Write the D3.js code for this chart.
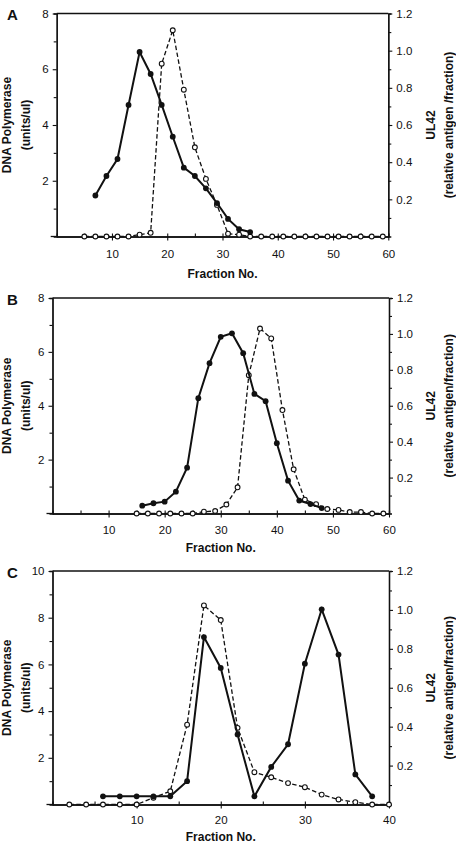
<!DOCTYPE html>
<html>
<head>
<meta charset="utf-8">
<script src="https://cdn.jsdelivr.net/npm/d3@7/dist/d3.min.js"></script>
<style>
  body { margin: 0; background: #fff; }
  svg { display: block; }
  text { font-family: "Liberation Sans", Arial, Helvetica, sans-serif; fill: #111; }
  .tick text { font-size: 11.5px; }
  .title { font-size: 12px; font-weight: bold; }
  .letter { font-size: 15px; font-weight: bold; }
</style>
</head>
<body>
<svg id="chart" width="456" height="844"></svg>
<script>
// panel A
const fractionsA = [7, 9, 11, 13, 15, 17, 19, 21, 23, 25, 27, 29, 31, 33, 35];
const polymeraseA = [1.47, 2.17, 2.78, 4.72, 6.62, 5.83, 4.72, 3.58, 2.47, 2.17, 1.73, 1.20, 0.63, 0.26, 0.16];
const ul42FractionsA = [5, 7, 9, 11, 13, 15, 17, 19, 21, 23, 25, 27, 29, 31, 33, 35, 37, 39, 41, 43, 45, 47, 49, 51, 53, 55, 57, 59];
const ul42A = [0, 0, 0, 0, 0, 0.01, 0.02, 0.93, 1.11, 0.79, 0.48, 0.31, 0.17, 0.015, 0.01, 0, 0, 0, 0, 0, 0, 0, 0, 0, 0, 0, 0, 0];

// panel B
const fractionsB = [16, 18, 20, 22, 24, 26, 28, 30, 32, 34, 36, 38, 40, 42, 44, 46, 48];
const polymeraseB = [0.29, 0.38, 0.44, 0.81, 1.70, 4.28, 5.58, 6.56, 6.69, 5.95, 4.44, 4.17, 2.61, 1.22, 0.48, 0.35, 0.2];
const ul42FractionsB = [15, 17, 19, 21, 23, 25, 27, 29, 31, 33, 35, 37, 39, 41, 43, 45, 47, 49, 51, 53, 55, 57, 59];
const ul42B = [0, 0, 0, 0, 0, 0, 0.01, 0.014, 0.05, 0.146, 0.77, 1.03, 0.975, 0.576, 0.246, 0.077, 0.052, 0.025, 0.02, 0.008, 0.008, 0, 0];

// panel C
const fractionsC = [6, 8, 10, 12, 14, 16, 18, 20, 22, 24, 26, 28, 30, 32, 34, 36, 38];
const polymeraseC = [0.35, 0.35, 0.35, 0.35, 0.35, 1.0, 7.17, 5.85, 3.0, 0.35, 1.61, 2.58, 6.03, 8.36, 6.42, 1.29, 0.35];
const ul42FractionsC = [2, 4, 6, 8, 10, 12, 14, 16, 18, 20, 22, 24, 26, 28, 30, 32, 34, 36, 38, 40];
const ul42C = [0, 0, 0, 0, 0, 0.035, 0.068, 0.41, 1.023, 0.948, 0.394, 0.166, 0.14, 0.11, 0.089, 0.051, 0.026, 0.012, 0, 0];

// tick labels
const xTicks60 = [10, 20, 30, 40, 50, 60];
const xMinor60 = [5, 15, 25, 35, 45, 55];
const xTicks40 = [10, 20, 30, 40];
const xMinor40 = [5, 15, 25, 35];
const yTicks8 = [2, 4, 6, 8];
const yMinor8 = [1, 3, 5, 7];
const yTicks10 = [2, 4, 6, 8, 10];
const yMinor10 = [1, 3, 5, 7, 9];
const rightTicks = [0.2, 0.4, 0.6, 0.8, 1.0, 1.2];
const rightMinor = [0.1, 0.3, 0.5, 0.7, 0.9, 1.1];

const xTitle = "Fraction No.";
const leftTitle = ["DNA Polymerase", "(units/ul)"];

const svg = d3.select("#chart");

const drawPanel = (p) => {
    const g = svg.append("g");

    const xScale = d3.scaleLinear().domain([0, p.xMax]).range([p.left, p.right]);
    const yScale = d3.scaleLinear().domain([0, p.yMax]).range([p.bottom, p.top]);
    const rScale = d3.scaleLinear().domain([0, 1.2]).range([p.bottom, p.top]);

    // top frame line
    g.append("line")
     .attr("x1", p.left).attr("x2", p.right)
     .attr("y1", p.top).attr("y2", p.top)
     .attr("stroke", "#111").attr("stroke-width", 1.3);

    // minor ticks
    g.append("g")
     .attr("transform", `translate(${p.left},0)`)
     .call(d3.axisLeft(yScale).tickValues(p.yMinor).tickSize(3).tickFormat(""));
    g.append("g")
     .attr("transform", `translate(${p.right},0)`)
     .call(d3.axisRight(rScale).tickValues(rightMinor).tickSize(3).tickFormat(""));
    g.append("g")
     .attr("transform", `translate(0,${p.bottom})`)
     .call(d3.axisTop(xScale).tickValues(p.xMinor).tickSize(3).tickFormat(""));

    // major axes
    g.append("g")
     .attr("transform", `translate(${p.left},0)`)
     .call(d3.axisLeft(yScale).tickValues(p.yTicks).tickSizeInner(4).tickSizeOuter(0).tickPadding(4).tickFormat(d3.format("d")));
    g.append("g")
     .attr("transform", `translate(${p.right},0)`)
     .call(d3.axisRight(rScale).tickValues(rightTicks).tickSizeInner(4).tickSizeOuter(0).tickPadding(4).tickFormat(d3.format(".1f")));
    const xAxisG = g.append("g")
     .attr("transform", `translate(0,${p.bottom})`)
     .call(d3.axisBottom(xScale).tickValues(p.xTicks).tickSizeInner(4).tickSizeOuter(0).tickPadding(p.xPad).tickFormat(d3.format("d")));
    // x axis line runs a little past the left axis
    xAxisG.append("line")
     .attr("x1", p.left - 6).attr("x2", p.left)
     .attr("stroke", "#111").attr("stroke-width", 1.3);
    xAxisG.selectAll(".tick line").attr("y1", -3);

    g.selectAll(".domain").attr("stroke", "#111").attr("stroke-width", 1.3);
    g.selectAll(".tick line").attr("stroke", "#111").attr("stroke-width", 1.1);
    g.selectAll(".tick text").attr("fill", "#111");

    // UL42 series (dashed, open circles)
    const ul42 = p.ul42Fractions.map((f, i) => ({ x: f, y: p.ul42[i] }));
    const ul42Line = d3.line().x(d => xScale(d.x)).y(d => rScale(d.y));
    g.append("path")
     .attr("d", ul42Line(ul42))
     .attr("fill", "none")
     .attr("stroke", "#111")
     .attr("stroke-width", 1.3)
     .attr("stroke-dasharray", "4.5,2.5");
    g.selectAll(".open")
     .data(ul42)
     .enter()
     .append("circle")
     .attr("class", "open")
     .attr("cx", d => xScale(d.x))
     .attr("cy", d => rScale(d.y))
     .attr("r", 2.4)
     .attr("fill", "#fff")
     .attr("stroke", "#111")
     .attr("stroke-width", 1.1);

    // polymerase series (solid, filled circles)
    const pol = p.fractions.map((f, i) => ({ x: f, y: p.polymerase[i] }));
    const polLine = d3.line().x(d => xScale(d.x)).y(d => yScale(d.y));
    g.append("path")
     .attr("d", polLine(pol))
     .attr("fill", "none")
     .attr("stroke", "#111")
     .attr("stroke-width", 2);
    g.selectAll(".filled")
     .data(pol)
     .enter()
     .append("circle")
     .attr("class", "filled")
     .attr("cx", d => xScale(d.x))
     .attr("cy", d => yScale(d.y))
     .attr("r", 2.9)
     .attr("fill", "#111");

    // titles
    const midY = (p.top + p.bottom) / 2;
    g.append("text")
     .attr("class", "letter")
     .attr("x", 7).attr("y", p.letterY)
     .text(p.letter);
    g.append("text")
     .attr("class", "title")
     .attr("text-anchor", "middle")
     .attr("x", (p.left + p.right) / 2)
     .attr("y", p.bottom + p.titlePad)
     .text(xTitle);
    g.append("text")
     .attr("class", "title")
     .attr("text-anchor", "middle")
     .attr("transform", `translate(11,${midY}) rotate(-90)`)
     .text(leftTitle[0]);
    g.append("text")
     .attr("class", "title")
     .attr("text-anchor", "middle")
     .attr("transform", `translate(30,${midY}) rotate(-90)`)
     .text(leftTitle[1]);
    g.append("text")
     .attr("class", "title")
     .attr("text-anchor", "middle")
     .attr("transform", `translate(435,${midY}) rotate(-90)`)
     .text("UL42");
    g.append("text")
     .attr("class", "title")
     .attr("text-anchor", "middle")
     .attr("transform", `translate(453,${midY}) rotate(-90)`)
     .text(p.rightTitle);
};

drawPanel({
    letter: "A", letterY: 20,
    left: 56.7, right: 388.3, top: 13.5, bottom: 236.5,
    xMax: 60, yMax: 8, xTicks: xTicks60, xMinor: xMinor60, yTicks: yTicks8, yMinor: yMinor8,
    xPad: 9, titlePad: 41,
    fractions: fractionsA, polymerase: polymeraseA,
    ul42Fractions: ul42FractionsA, ul42: ul42A,
    rightTitle: "(relative antigen /fraction)"
});

drawPanel({
    letter: "B", letterY: 305,
    left: 52.5, right: 389, top: 298, bottom: 513.5,
    xMax: 60, yMax: 8, xTicks: xTicks60, xMinor: xMinor60, yTicks: yTicks8, yMinor: yMinor8,
    xPad: 8, titlePad: 38,
    fractions: fractionsB, polymerase: polymeraseB,
    ul42Fractions: ul42FractionsB, ul42: ul42B,
    rightTitle: "(relative antigen/fraction)"
});

drawPanel({
    letter: "C", letterY: 578,
    left: 52.5, right: 389, top: 571, bottom: 804.5,
    xMax: 40, yMax: 10, xTicks: xTicks40, xMinor: xMinor40, yTicks: yTicks10, yMinor: yMinor10,
    xPad: 7, titlePad: 36,
    fractions: fractionsC, polymerase: polymeraseC,
    ul42Fractions: ul42FractionsC, ul42: ul42C,
    rightTitle: "(relative antigen/fraction)"
});
</script>
</body>
</html>
